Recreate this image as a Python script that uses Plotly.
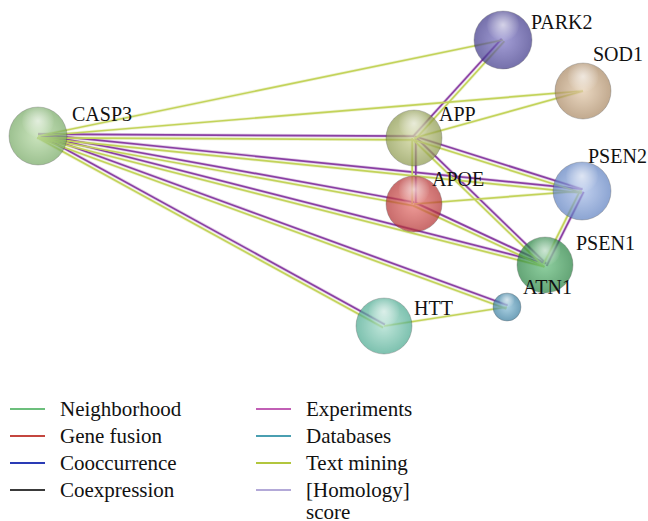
import plotly.graph_objects as go
import math

# ---- data ----
proteins = ["CASP3", "PARK2", "SOD1", "APP", "APOE", "PSEN2", "PSEN1", "ATN1", "HTT"]
node_x = [38, 503, 583, 414, 414, 582, 545, 507, 384]
node_y = [136, 40, 91, 138, 204, 191, 265, 307, 326]
node_diam = [58, 58, 56, 56, 56, 58, 56, 28, 56]
node_edge_color = ["#74a862", "#3c3588", "#a88660", "#8a974a", "#b22e2e",
                   "#5c7fc0", "#24803e", "#33799c", "#47a88e"]
node_center_color = ["#b5d9a2", "#7e77c6", "#e2c8a8", "#ccd294", "#e8726c",
                     "#a8bde8", "#5fbb77", "#86bdd6", "#a6dccb"]

# label placement (left edge, vertical middle of capitals)
label_x = [70, 529, 591, 437, 430, 586, 574, 521, 412]
label_y = [114, 22, 54, 114, 179, 156, 243, 287, 308]

# interactions: (protein a, protein b, evidence list)
edges_a = ["CASP3", "CASP3", "CASP3", "CASP3", "CASP3", "CASP3", "CASP3", "CASP3",
           "APP", "APP", "APP", "APP", "APP", "APOE", "APOE", "PSEN2", "ATN1"]
edges_b = ["PARK2", "SOD1", "APP", "APOE", "PSEN2", "PSEN1", "ATN1", "HTT",
           "PARK2", "SOD1", "APOE", "PSEN2", "PSEN1", "PSEN2", "PSEN1", "PSEN1", "HTT"]
edges_ev = [["Text mining"], ["Text mining"],
            ["Experiments", "Text mining"], ["Experiments", "Text mining"],
            ["Experiments", "Text mining"], ["Experiments", "Text mining"],
            ["Experiments", "Text mining"], ["Experiments", "Text mining"],
            ["Experiments", "Text mining"], ["Text mining"],
            ["Experiments", "Text mining"], ["Experiments", "Text mining"],
            ["Experiments", "Text mining"], ["Text mining"],
            ["Experiments", "Text mining"], ["Experiments", "Text mining"],
            ["Text mining"]]

evidence_types = ["Neighborhood", "Gene fusion", "Cooccurrence", "Coexpression",
                  "Experiments", "Databases", "Text mining", "[Homology] score"]
evidence_colors = ["#6cbf7c", "#c4463f", "#2a3bb5", "#3a3a3a",
                   "#c15fb5", "#4a9fb1", "#b2c63d", "#b3a9d8"]
edge_draw_colors = {"Experiments": "#8a3fa3", "Text mining": "#c3d35a"}

W, H = 648, 521
SERIF = "Liberation Serif, Times New Roman, serif"

# ---- figure ----
fig = go.Figure()
pos = {p: (x, y) for p, x, y in zip(proteins, node_x, node_y)}

segs = {k: ([], []) for k in edge_draw_colors}
for a, b, ev in zip(edges_a, edges_b, edges_ev):
    (x0, y0), (x1, y1) = pos[a], pos[b]
    dx, dy = x1 - x0, y1 - y0
    L = math.hypot(dx, dy)
    px, py = -dy / L, dx / L
    n = len(ev)
    for i, e in enumerate(ev):
        off = (i - (n - 1) / 2) * 3.6
        xs, ys = segs[e]
        xs += [x0 + px * off, x1 + px * off, None]
        ys += [y0 + py * off, y1 + py * off, None]

# soft halo under edges
for e, (xs, ys) in segs.items():
    fig.add_trace(go.Scatter(x=xs, y=ys, mode="lines",
                             line=dict(color=edge_draw_colors[e], width=3.2),
                             opacity=0.25, hoverinfo="skip", showlegend=False))
for e, (xs, ys) in segs.items():
    fig.add_trace(go.Scatter(x=xs, y=ys, mode="lines",
                             line=dict(color=edge_draw_colors[e], width=1.7),
                             hoverinfo="skip", showlegend=False))

# spheres
fig.add_trace(go.Scatter(
    x=node_x, y=node_y, mode="markers",
    marker=dict(size=node_diam, color=node_edge_color,
                gradient=dict(type="radial", color=node_center_color),
                line=dict(color="rgba(40,40,40,0.35)", width=1)),
    text=proteins, hoverinfo="text", showlegend=False))

# glossy highlights
hx = node_x
hy = [y - d * 0.26 for y, d in zip(node_y, node_diam)]
hs = [d * 0.55 for d in node_diam]
fig.add_trace(go.Scatter(
    x=hx, y=hy, mode="markers",
    marker=dict(size=hs, color="rgba(255,255,255,0.05)",
                gradient=dict(type="radial", color="rgba(255,255,255,0.9)"),
                line=dict(width=0)),
    hoverinfo="skip", showlegend=False))

for p, lx, ly in zip(proteins, label_x, label_y):
    fig.add_annotation(x=lx, y=ly, text=p, showarrow=False, xanchor="left",
                       yanchor="middle",
                       font=dict(family=SERIF, size=20, color="#111111"))

# legend (manual, two columns of four; long label wraps onto a second line)
for i, (name, col) in enumerate(zip(evidence_types, evidence_colors)):
    c, r = divmod(i, 4)
    x0 = 10 + c * 246
    yl = 409 + r * 27
    fig.add_trace(go.Scatter(x=[x0, x0 + 35], y=[yl, yl], mode="lines",
                             line=dict(color=col, width=2),
                             hoverinfo="skip", showlegend=False))
    words = name.split(" ", 1) if name.startswith("[") else [name]
    for k, w in enumerate(words):
        fig.add_annotation(x=x0 + 48, y=yl + k * 22, text=w, showarrow=False,
                           xanchor="left", yanchor="middle",
                           font=dict(family=SERIF, size=21, color="#111111"))

fig.update_layout(
    width=W, height=H, margin=dict(l=0, r=0, t=0, b=0),
    paper_bgcolor="white", plot_bgcolor="white",
    xaxis=dict(range=[0, W], visible=False, fixedrange=True),
    yaxis=dict(range=[H, 0], visible=False, fixedrange=True),
    showlegend=False,
)
fig.write_html("out.html",
               config={"displayModeBar": False},
               post_script="document.body.style.margin='0';"
                           "document.body.style.overflow='hidden';")
